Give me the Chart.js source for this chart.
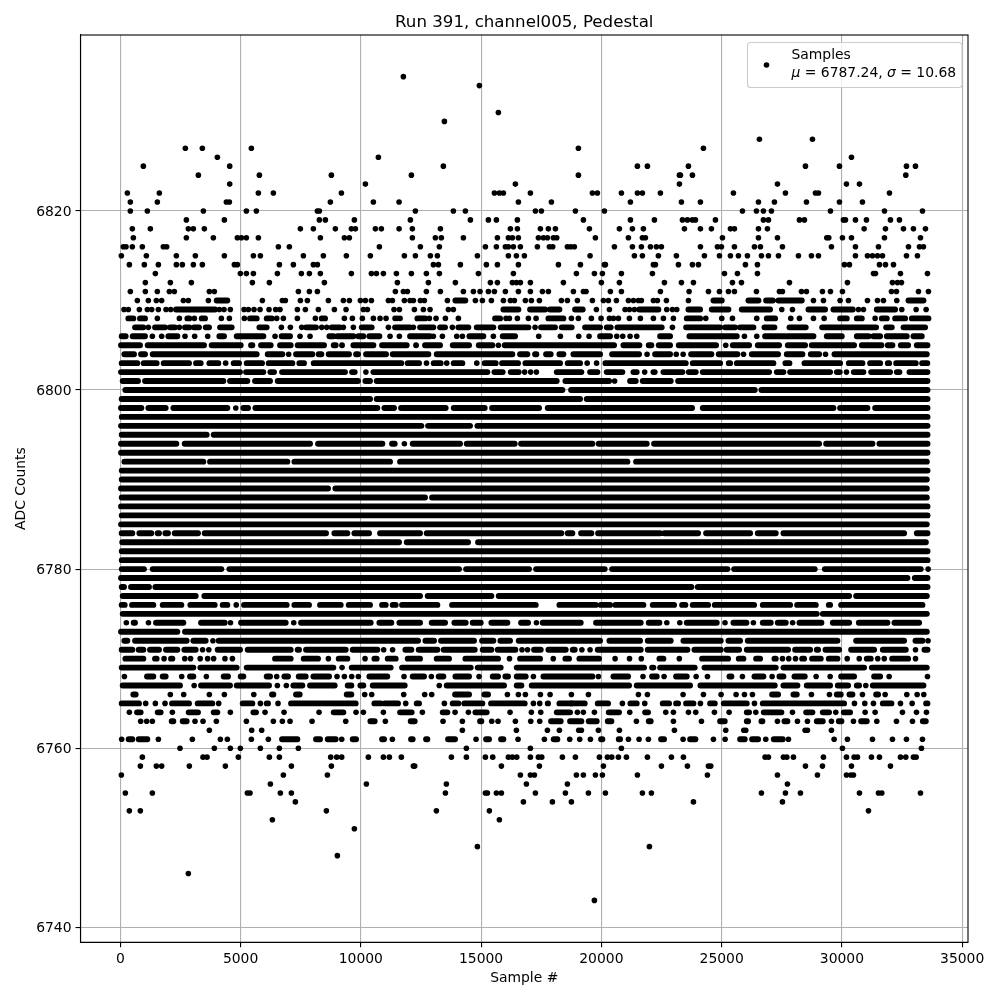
<!DOCTYPE html>
<html><head><meta charset="utf-8">
<style>html,body{margin:0;padding:0;background:#fff}canvas{display:block}</style>
<script src="https://cdn.jsdelivr.net/npm/chart.js@4"></script>
</head><body><canvas id="c" width="1000" height="1000"></canvas>
<script>
const xTickValues=[0,5000,10000,15000,20000,25000,30000,35000];
const yTickValues=[6740,6760,6780,6800,6820];
const chartTitle="Run 391, channel005, Pedestal";
const seriesName="Samples";
const statsMean="6787.24", statsSigma="10.68";

// isolated samples per ADC level (sample numbers)
const dots6835=[11768];
const dots6834=[14928];
const dots6831=[15718];
const dots6830=[13473];
const dots6828=[26571,28775];
const dots6827=[2704,3411,5448,19045,24243];
const dots6826=[4035,10729,30397];
const dots6825=[958,4548,13431,21498,21914,23619,28484,29898,32684,33058];
const dots6824=[3245,5781,8775,12101,19045,23245,23286,23785,32656];
const dots6823=[4548,10189,16425,23245,27320,30189,30729];
const dots6822=[293,1623,5740,6363,9191,15552,15760,15926,17049,19627,19835,20833,21498,21706,22454,25490,27652,28900,29025,31977];
const dots6821=[417,1540,4409,4534,8733,10521,11589,16550,17922,21207,23328,24118,26530,27195,28526,29898,30854];
const dots6820=[417,1124,3453,5241,5656,8193,8276,12267,13847,14346,17257,17506,18920,20126,25864,26446,26737,27070,29523,31769,33349];
const dots6819=[2746,4326,8276,8525,9731,12059,14554,15302,15635,16508,19253,21207,22205,23370,23578,23785,23910,24742,26737,26946,28234,28442,30064,30147,30563,31020,32018,32393];
const dots6818=[500,1249,2829,3037,3494,7486,8026,8941,9606,9773,10604,10854,11589,12142,13307,16217,16508,17465,17797,18089,19502,20749,21290,21747,23453,24118,24575,25365,25532,26530,26904,30923,31811,32559,32974,33474];
const dots6817=[542,2746,3868,4866,5033,5241,5740,8317,9315,9523,12142,13099,13348,14263,15677,16134,16300,16550,17382,17589,17756,18005,18144,19751,21124,21706,21831,25033,26530,27320,29371,29454,30022,30397,31769,33266];
const dots6816=[126,237,500,916,1789,1928,6571,7028,10771,12475,13265,15178,15635,16009,16134,16342,16633,17340,17839,17977,18587,18726,18878,20542,21290,21664,22039,22288,22496,24118,24825,24991,25532,26363,26613,27528,29565,30563,31519,32767,33224,33390];
const dots6815=[43,1083,2330,3120,4326,5532,5823,7611,8442,9398,10396,11810,12267,12891,13182,14845,16134,16467,16799,19530,21373,21706,22371,23119,24284,24908,25365,25698,26072,26654,26946,27362,28193,28733,29025,30563,31062,31270,31478,31686,32684,33140];
const dots6814=[376,999,1582,2330,2579,3037,3411,4742,4866,6613,7195,8026,8193,13016,13224,14138,15219,15677,16550,18213,19128,20126,20168,22163,22246,23203,23785,24035,25989,26488,30105,30313,31561,31811,32143];
const dots6813=[1457,4991,5241,5532,6530,7527,7860,8317,9606,10438,10646,10937,11478,12101,12725,13265,14887,16342,18962,19710,20043,20833,22122,25116,25657,26488,31312,31394,32434,33557];
const dots6812=[1041,2081,2954,5490,6197,8484,11519,12808,13930,15386,15677,16300,16467,16633,17049,18421,20000,20749,22621,23328,23827,25449,25823,27819,30230,32101,32309,32475];
const dots6811=[417,1041,1540,2039,2247,3702,3910,7403,7860,8193,11436,11768,11935,12725,13307,14263,14679,14956,15302,15552,16009,16550,17049,17548,17797,18837,19253,19364,20375,20833,22454,23647,24451,24908,25282,25532,26446,27403,27528,28318,28526,29191,29523,30022,32060,32267,33183,33598];
const dots6810=[708,1166,1498,1720,2621,2829,3661,5906,6737,6862,7486,7777,8650,9274,9523,9981,10189,10438,11145,11311,11810,12045,12184,12475,12641,13598,14762,15053,15427,15926,16217,16384,16841,17090,17423,18338,18587,19003,19627,20084,20292,20625,21124,21332,21540,21664,22163,22329,22704,23619,28817,29232,29925,30272,31062,31478,31727,32281];
const runs6810=[4007,4450,13930,14346,24659,25005,26114,26530,26849,27126,27362,28331,32767,33390];
const dots6809=[154,334,792,1124,1304,1582,1900,2094,4118,4312,4575,5144,5324,5559,5809,6183,6460,6640,7361,7694,8234,8900,9385,10105,10272,11380,11602,12226,12600,12877,13639,13847,19793,20334,20985,21165,21373,22718,22953,23134,27500,27943,30688,30896,32489,33085,33501];
const runs6809=[2316,3938,15926,16550,17035,17659,17867,18255,18906,19225,21581,22371,23619,24104,24589,25282,25837,27015,28609,29302,29648,30452,31450,32212];
const dots6808=[1540,2455,3078,4201,4534,5157,6502,6779,7361,8109,9315,9648,10064,10521,10798,11048,11422,11519,11630,12849,13127,13515,14055,16037,16176,16508,16966,17285,18754,19045,19585,19987,20334,20500,20708,21165,21622,22163,22579,22995,24340,25005,25449,26460,27874,28234,28817,29260,31380];
const runs6808=[334,542,819,1027,2787,2870,3383,3522,5393,5670,6086,6294,8373,8512,12350,12669,15580,15788,17797,18421,23550,24104,26876,27223,29925,30203,30619,30827,31658,31866,32212,32628,32905,33598];
const dots6807=[1166,2455,6696,7070,7541,8373,8581,9274,9689,11145,12184,13805,17243,22953];
const runs6807=[611,958,1443,1859,2067,2275,2690,2870,3064,3272,3550,3689,4146,4631,5781,6086,7721,8137,8788,9135,10036,10452,11422,12045,12461,13016,13293,13501,14055,14471,14817,15510,15815,16966,17492,18074,18351,18767,19322,19946,20223,20389,20666,21886,21955,22510,23522,24936,25144,25559,25767,26322,26779,27195,27819,28498,29177,31422,31838,32074,32559,33460];
const dots6806=[1332,1720,2690,3092,3633,6433,7472,7888,11214,11602,13016,13390,13986,14221,15510,17395,18296,19059,19488,20639,20888,21193,21470,25948,26460];
const runs6806=[57,223,514,1027,1997,2372,4118,4312,4839,5948,6709,7056,8692,8858,9024,9689,9897,10105,10355,10771,12045,12877,14512,15095,15898,16412,19946,20361,22441,22856,23660,24175,24240,25630,26807,27638,27708,28817,29371,29995,30619,31104,31311,31589,31866,32697,32975,33321];

// continuous stretches [from,to,from,to,...] per ADC level
const runs6805=[29,819,1138,3480,3799,5005,5435,5490,5851,6252,6641,7084,7375,8470,8872,8955,9218,9232,9690,10521,10882,11907,12295,12322,12669,13293,13820,14499,14901,15469,15982,20528,20916,21581,21969,22080,22385,22856,23217,24769,25463,26141,26502,27389,27750,28470,28747,30507,30826,31644,31907,32101,32448,32753,33113,33557];
const dots6805=[15720,25170];
const runs6804=[168,570,861,1027,1346,5670,6128,6737,7306,7985,8248,8359,8664,9509,9801,9884,10216,11048,11325,12808,13154,16300,16619,16924,17243,17298,17700,17894,18255,18421,18837,19946,20445,21567,22233,22856,23730,24575,24880,25656,26253,27347,27708,28359,28706,29052,29690,33529];
const dots6804=[6999,21900,23113,23400,25910,29320];
const runs6803=[57,708,972,1512,1803,2857,3148,3342,3702,4076,4714,4935,5255,5892,6169,7153,7444,7638,8040,11685,11949,12420,13030,13320,13861,14221,15150,15607,15871,16536,16841,18282,18601,19114,20168,23508,23799,24936,25296,25352,25629,27153,27652,27819,28443,29925,30286,30854,31173,31589,31907,31962,32254,33071,33335,33550];
const dots6803=[4380,12730,13570,14820,19410,19800];
const runs6802=[29,4977,5227,5947,6238,6391,6724,9343,9634,9745,10521,15261,15552,15898,16231,16564,18144,19169,19530,19835,20223,20874,21332,21470,22163,22219,22579,23370,23633,23924,24215,26973,27292,27569,27846,29509,29787,29911,30494,30895,31215,32004,32282,32392,32808,33557];
const dots6802=[10210,16810,17060,17300,21800,30190];
const runs6801=[99,736,1027,4284,4562,5282,5601,6225,6544,9883,10189,10382,10660,18144,18504,20320,21193,21429,21720,22884,23190,33557];
const dots6801=[20550];
const runs6800=[210,18380,18740,26377,26654,33560];
const runs6799=[57,10383,10660,19114,19391,33560];
const runs6798=[29,875,1166,1886,2205,4450,5116,5310,5615,10687,10979,11380,11671,13528,13861,15150,15455,17409,17770,23771,24215,29648,29925,31062,31381,33560];
const dots6798=[4800];
const runs6797=[60,33560];
const runs6796=[30,12517,12794,14540,14845,33560];
const runs6795=[60,3591,3882,33560];
const runs6794=[29,2330,2677,7888,8221,10895,11297,11408,12156,14124,14402,16397,16661,19627,19890,21886,22191,29052,29343,31270,31561,33560];
const dots6794=[11810];
const runs6793=[30,33560];
const runs6792=[170,3452,3730,6945,7237,11214,11630,21082,21443,33530];
const runs6791=[60,33560];
const runs6790=[60,33530];
const runs6789=[30,8636,8941,33530];
const runs6788=[60,12669,12960,33530];
const runs6787=[30,33560];
const runs6786=[60,33560];
const runs6785=[30,33530];
const runs6784=[57,500,792,1290,1554,1609,1873,1983,2261,3231,3508,8553,8900,9440,9731,10341,10798,12461,12738,18338,18601,18795,19156,19585,19863,22440,22618,24021,24354,26183,26502,27250,27569,32586,33113,33560];
const runs6783=[80,11588,11907,14457,14873,33490];
const runs6782=[60,33560];
const runs6781=[60,33560];
const runs6780=[60,985,1346,4201,4534,14083,14374,16993,17285,20139,20445,25241,25518,28872,29288,33279];
const dots6780=[33585];
const runs6779=[30,32725,33030,33560];
const runs6778=[60,154,445,1193,1457,23744,24007,33560];
const runs6777=[100,3134,3494,12461,12780,15427,15732,30300,30591,33530];
const runs6776=[57,182,487,1373,1762,2538,2912,3924,4257,4450,5144,6917,7237,7846,8304,9163,9496,10382,10882,11034,11325,11449,11713,13182,13792,17271,18255,19765,19974,20361,20584,21747,22135,23023,23356,23494,23799,24437,24714,26349,26710,27846,28138,28914,29455,29509,29967,33349];
const dots6776=[4820];
const runs6775=[100,28955,29205,33530];
const runs6774=[556,611,1485,2621,3356,4339,5019,6876,7514,10410,10771,11269,11602,12461,12946,13501,13889,14360,14651,14984,15427,16092,16661,16952,17562,19142,19779,21636,21969,22413,23550,24797,25490,26031,26710,27042,27334,27666,28235,29149,29620,30300,30702,31893,32185,33210];
const dots6774=[250,1170,4580,7210,17300,22720,23260,25140,26320,27950];
const runs6773=[30,2371,2690,33530];
const runs6772=[168,292,612,2759,3037,3550,4090,12378,12683,13043,13334,14706,15039,15510,15802,16203,16564,19946,20334,21609,21928,22884,23411,24963,25282,25767,26086,29814,30591,32586,33058,33349];
const dots6772=[3850,33580];
const runs6771=[57,500,764,958,1235,1609,1900,2371,2663,3134,4049,4977,5296,7084,7375,7430,7722,9371,9662,10687,11851,12101,12406,13182,13445,14734,15067,15427,15691,16425,17201,17479,17798,18518,18809,18892,19849,21636,21928,23577,23869,24963,25213,25726,26045,27763,28054,28678,28955,29011,29316,29884,30383,31339,31700,32656,33432,33560];
const dots6771=[3420,3680,10950,11320,16700,16930,19190,19530,33060];
const runs6770=[210,958,1443,1512,2108,2164,6433,7084,7625,8220,9080,9440,10563,10659,11117,11449,11949,12461,13154,13667,14346,15704,16619,17451,18504,18656,19086,19904,22413,22579,24187,25268,25712,25906,26433,26599,27195,27250,28346,28428,28761,29121,29454,29814,31034,31200,32088,32753];
const dots6770=[1820,2680,2920,3320,3630,3880,4350,4660,8650,10175,16180,18000,20570,21170,21660,23240,27530,27790,28070,30220,30720,31490,31760,33060];
const runs6769=[57,3037,3328,4838,5255,8858,9620,11241,11713,14568,14859,15815,16481,21775,22108,22163,22441,23882,24285,27250,27569,30923,31242,33529];
const dots6769=[9220];
const runs6768=[1110,1373,1762,1886,2898,3037,4298,4478,5005,5116,6086,6225,6821,6973,7417,7708,8027,8678,10355,11100,12156,12627,13237,13431,13931,14499,15483,15704,16009,16120,16481,16855,17590,19627,20500,21110,22108,22302,23106,23550,25324,25407,26364,26737,27403,27569,28027,28456,29967,30507,31339,31589];
const dots6768=[170,2552,3577,6502,9010,9316,9620,9897,11796,12932,14915,17174,19876,21730,22607,23940,24410,25864,27098,28928,29510,31963,33557];
const runs6767=[99,2482,3356,4561,4839,6183,7195,7569,7888,8913,9454,9606,9981,10105,10494,11824,13570,15954,16481,16675,17104,21151,21470,23688,24118,27209,27569,28151,28539,29509,29829,30258,30619,30715,31284,33390];
const dots6767=[3070,6530,6902,13260,30993];
const runs6766=[542,639,6308,6363,7306,7458,9413,9606,13917,14499,15136,15289,27098,27347,27985,28123,29787,29953,30314,30438,31423,31505];
const dots6766=[2080,2635,3702,4326,5550,10161,10452,11782,12655,12946,16093,16550,16841,17465,17867,18754,19461,21540,21914,23397,24243,24977,25601,25948,26280,28733,29482,30854,31797,32698,33127,33404];
const runs6765=[57,778,2150,2857,3217,3826,5088,5490,6086,6141,7098,9786,10563,10826,10990,11546,12323,12420,13819,14055,14304,15053,15413,16813,17770,17783,18255,19308,19849,20278,21207,21470,22551,22815,23106,23189,23522,23827,24520,24714,25088,26045,26710,30092,31700,32060,33501,33557];
const dots6765=[1055,1457,1859,4090,5823,6557,11866,13473,17174,17437,18755,20874,21803,24118,26364,30521,30951,31311,32434,32919];
const runs6764=[695,847,1554,1678,2843,3231,3882,4035,5532,5642,8872,9274,11630,12115,13404,13598,14762,15233,18144,18698,20306,20735,21817,21941,26045,26141,26752,27486,28512,28775,29205,29468,30078,30341];
const dots6764=[376,2164,4575,6017,6807,8262,9800,10105,10937,12558,13917,14471,16203,17090,17479,19003,19252,19710,21180,22676,22995,23620,23924,24700,25310,26420,27944,29745,30965,31380,32517,33100,33515];
const runs6763=[2136,2205,2593,2759,10397,10576,12073,12239,14956,15011,17908,18310,18698,19169,19474,19807,20265,20417,21969,22052,24936,25130,26045,26100,26654,26696,27611,27735,28955,29205,29870,29981,30799,31034,33363,33487];
const dots6763=[847,1096,1332,3106,3439,3993,5241,6363,6737,7056,7971,9371,11020,13417,14221,15441,15704,16425,17063,17437,21456,22995,24160,27320,28151,28567,29565,30480,31450,32268,32933];
const dots6762=[3702,5462,5878,14221,16467,17756,18255,19059,19169,19876,20750,23037,25171,25920,26003,28470,28567,29565];
const runs6761=[348,500,764,1124,6724,7361,8137,8304,8623,8955,9662,9801,10882,10965,12087,12156,12711,12766,13626,13916,15206,15330,15829,15926,18019,18171,19987,20043,20722,20777,22482,22606,23689,23910,25768,25961,26266,26516,27167,27541];
const dots6761=[57,1582,2995,4160,4450,5448,6155,9205,11311,14790,16536,17631,18684,19100,19544,21124,21567,21955,23397,24659,25144,26835,27777,29676,30230,31270,32101,32683,33349];
const dots6760=[2482,3910,4575,4991,5823,6613,7403,14388,17049,20832,30022,33307];
const dots6759=[916,3439,3605,4908,6197,6613,8747,8997,9204,10313,10937,11186,11685,13764,14388,15178,15483,16134,16300,16481,17049,17382,17520,18379,18920,19918,20251,20431,20708,21041,21914,22912,23411,26807,26945,27569,27708,27985,29232,30189,30508,30646,31228,31561,32434,32655,32974,33085];
const dots6758=[833,1498,1720,2870,4367,7112,8775,12184,12239,15843,17423,20084,22496,23578,24451,24548,28484,29191,30397,32018];
const dots6757=[43,6779,8609,16633,17049,17215,18961,19252,19752,20043,21498,24409,27320,28983,30189,30369,30480];
const dots6756=[6239,10230,13556,16883,18588,27735];
const dots6755=[209,1332,5282,5393,6654,7112,13515,15178,15261,15635,15843,17257,18504,19461,20168,21706,22080,26654,27652,28276,30729,31519,31658,33266];
const dots6754=[7278,16758,17964,18754,23827,27528];
const dots6753=[376,833,8567,13140,15344,31104];
const dots6752=[6322,15760];
const dots6751=[9731];
const dots6749=[14845,21997];
const dots6748=[9024];
const dots6746=[2829];
const dots6743=[19710];

const dotTable=[[6835,dots6835],[6834,dots6834],[6831,dots6831],[6830,dots6830],[6828,dots6828],[6827,dots6827],[6826,dots6826],[6825,dots6825],[6824,dots6824],[6823,dots6823],[6822,dots6822],[6821,dots6821],[6820,dots6820],[6819,dots6819],[6818,dots6818],[6817,dots6817],[6816,dots6816],[6815,dots6815],[6814,dots6814],[6813,dots6813],[6812,dots6812],[6811,dots6811],[6810,dots6810],[6809,dots6809],[6808,dots6808],[6807,dots6807],[6806,dots6806],[6805,dots6805],[6804,dots6804],[6803,dots6803],[6802,dots6802],[6801,dots6801],[6798,dots6798],[6794,dots6794],[6780,dots6780],[6776,dots6776],[6774,dots6774],[6772,dots6772],[6771,dots6771],[6770,dots6770],[6769,dots6769],[6768,dots6768],[6767,dots6767],[6766,dots6766],[6765,dots6765],[6764,dots6764],[6763,dots6763],[6762,dots6762],[6761,dots6761],[6760,dots6760],[6759,dots6759],[6758,dots6758],[6757,dots6757],[6756,dots6756],[6755,dots6755],[6754,dots6754],[6753,dots6753],[6752,dots6752],[6751,dots6751],[6749,dots6749],[6748,dots6748],[6746,dots6746],[6743,dots6743]];
const runTable=[[6810,runs6810],[6809,runs6809],[6808,runs6808],[6807,runs6807],[6806,runs6806],[6805,runs6805],[6804,runs6804],[6803,runs6803],[6802,runs6802],[6801,runs6801],[6800,runs6800],[6799,runs6799],[6798,runs6798],[6797,runs6797],[6796,runs6796],[6795,runs6795],[6794,runs6794],[6793,runs6793],[6792,runs6792],[6791,runs6791],[6790,runs6790],[6789,runs6789],[6788,runs6788],[6787,runs6787],[6786,runs6786],[6785,runs6785],[6784,runs6784],[6783,runs6783],[6782,runs6782],[6781,runs6781],[6780,runs6780],[6779,runs6779],[6778,runs6778],[6777,runs6777],[6776,runs6776],[6775,runs6775],[6774,runs6774],[6773,runs6773],[6772,runs6772],[6771,runs6771],[6770,runs6770],[6769,runs6769],[6768,runs6768],[6767,runs6767],[6766,runs6766],[6765,runs6765],[6764,runs6764],[6763,runs6763],[6761,runs6761]];

const dotPoints=[];
dotTable.forEach(([level,xs])=>xs.forEach(x=>dotPoints.push({x:x,y:level})));
const runPoints=[];
runTable.forEach(([level,xs])=>{
  for(let i=0;i+1<xs.length;i+=2){
    runPoints.push({x:xs[i],y:level},{x:xs[i+1],y:level},{x:xs[i+1],y:null});
  }
});

const FONT='"DejaVu Sans"';
const frameAndLegend={
  id:'frameAndLegend',
  afterDraw(chart){
    const ctx=chart.ctx,a=chart.chartArea;
    ctx.save();
    ctx.strokeStyle='#000';ctx.lineWidth=1.1;
    ctx.strokeRect(a.left,a.top,a.right-a.left,a.bottom-a.top);
    const bx=747.5,by=42.5,bw=214.5,bh=45,r=3;
    ctx.beginPath();ctx.roundRect(bx,by,bw,bh,r);
    ctx.fillStyle='rgba(255,255,255,0.8)';ctx.fill();
    ctx.strokeStyle='#cccccc';ctx.lineWidth=1.1;ctx.stroke();
    ctx.fillStyle='#000';
    ctx.beginPath();ctx.arc(766.5,65,2.8,0,Math.PI*2);ctx.fill();
    ctx.textBaseline='alphabetic';ctx.textAlign='left';
    ctx.font='13.9px '+FONT;
    ctx.fillText(chart.data.datasets[0].label,791.5,59);
    let x=791.5;const y=77;
    const parts=[['\u03bc',true],[' = '+statsMean+', ',false],['\u03c3',true],[' = '+statsSigma,false]];
    parts.forEach(([t,it])=>{ctx.font=(it?'italic ':'')+'13.9px '+FONT;ctx.fillText(t,x,y);x+=ctx.measureText(t).width;});
    ctx.restore();
  }
};

new Chart(document.getElementById('c'),{
  type:'scatter',
  data:{datasets:[
    {label:seriesName,data:dotPoints,pointRadius:2.8,pointBorderWidth:0,pointBackgroundColor:'#000',showLine:false,order:1},
    {label:'',data:runPoints,showLine:true,spanGaps:false,pointRadius:0,pointHitRadius:0,borderColor:'#000',borderWidth:5.9,borderCapStyle:'round',borderJoinStyle:'round',tension:0,order:2}
  ]},
  options:{
    responsive:false,animation:false,devicePixelRatio:1,
    layout:{padding:{left:0,right:32,top:0,bottom:0}},
    plugins:{
      legend:{display:false},tooltip:{enabled:false},
      title:{display:true,text:chartTitle,color:'#000',fullSize:false,font:{family:FONT,size:16.67,weight:'normal',lineHeight:1},padding:{top:14,bottom:4.33}}
    },
    scales:{
      x:{type:'linear',min:-1655,max:35242,
        afterBuildTicks(s){s.ticks=xTickValues.map(v=>({value:v}));},
        afterFit(s){s.height=57.7;},
        grid:{color:'#b0b0b0',lineWidth:1.1,tickColor:'#000',tickLength:5,tickWidth:1.1},
        border:{color:'#000',width:1.1},
        ticks:{color:'#000',font:{family:FONT,size:13.9},maxRotation:0,padding:4,autoSkip:false,callback:v=>String(v)},
        title:{display:true,text:'Sample #',color:'#000',font:{family:FONT,size:13.9},padding:{top:4,bottom:13}}
      },
      y:{type:'linear',min:6738.32,max:6839.65,
        afterBuildTicks(s){s.ticks=yTickValues.map(v=>({value:v}));},
        afterFit(s){s.width=80.5;},
        grid:{color:'#b0b0b0',lineWidth:1.1,tickColor:'#000',tickLength:5,tickWidth:1.1},
        border:{color:'#000',width:1.1},
        ticks:{color:'#000',font:{family:FONT,size:13.9},padding:4,labelOffset:1,autoSkip:false,callback:v=>String(v)},
        title:{display:true,text:'ADC Counts',color:'#000',font:{family:FONT,size:13.9},padding:{top:12.7,bottom:0}}
      }
    }
  },
  plugins:[frameAndLegend]
});
</script></body></html>
